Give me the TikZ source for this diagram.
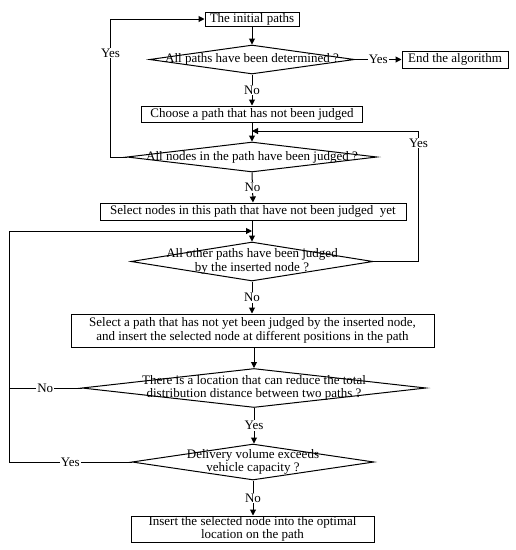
\documentclass[tikz,border=0pt]{standalone}
\usepackage{fontspec}
\setmainfont{Liberation Serif}
\usetikzlibrary{shapes.geometric, arrows.meta}

\tikzset{
  box/.style={draw, line width=1pt, inner sep=1pt, align=center},
  decision/.style={draw, diamond, line width=1pt, inner sep=0pt},
  dtext/.style={align=center, inner sep=0pt},
  arr/.style={-{Triangle[length=6pt, width=6pt]}, line width=1pt},
  link/.style={line width=1pt},
  lab/.style={fill=white, inner sep=1pt}
}

\begin{document}
\begin{tikzpicture}[x=1pt, y=-1pt, font=\fontsize{13}{13.5}\selectfont]
    \useasboundingbox (0,0) rectangle (516,550);

    % Start and end
    \node[box, minimum width=94pt, minimum height=14pt, inner sep=0pt] (start) at (252,19) {The initial paths};
    \node[box, minimum width=106pt, minimum height=17pt, inner sep=0pt] (fin) at (455,59.5) {End the algorithm};

    % First decision
    \node[decision, minimum width=205pt, minimum height=29pt] (d1) at (252,59.5) {};
    \node[dtext] (d1t) at (d1) {All paths have been determined ?};

    % Choose a path
    \node[box, minimum width=221pt, minimum height=16pt, inner sep=0pt] (pick) at (252,114) {Choose a path that has not been judged};

    % Second decision
    \node[decision, minimum width=250pt, minimum height=30pt] (d2) at (252,157) {};
    \node[dtext] (d2t) at (d2) {All nodes in the path have been judged ?};

    % Select nodes
    \node[box, minimum width=306pt, minimum height=17pt, inner sep=0pt] (sel) at (253,211.5) {Select nodes in this path that have not been judged\ \ yet};

    % Third decision
    \node[decision, minimum width=242pt, minimum height=39pt] (d3) at (252,261.5) {};
    \node[dtext] (d3t) at (d3) {All other paths have been judged\\by the inserted node ?};

    % Insert at positions
    \node[box, minimum width=363pt, minimum height=33pt, inner sep=0pt] (ins) at (252.5,330.5) {Select a path that has not yet been judged by the inserted node,\\and insert the selected node at different positions in the path};

    % Fourth decision
    \node[decision, minimum width=344pt, minimum height=39pt] (d4) at (254,388) {};
    \node[dtext] (d4t) at (d4) {There is a location that can reduce the total\\distribution distance between two paths ?};

    % Fifth decision
    \node[decision, minimum width=242pt, minimum height=36pt] (d5) at (253,462) {};
    \node[dtext] (d5t) at (d5) {Delivery volume exceeds\\vehicle capacity ?};

    % Final step
    \node[box, minimum width=243pt, minimum height=26pt, inner sep=0pt] (last) at (252.5,529) {Insert the selected node into the optimal\\location on the path};

    % Junction points on the main line
    \coordinate (j1) at (252,131);
    \coordinate (j2) at (252,231);

    % Arrows
    \draw[arr] (start) -- (d1.north);
    \draw[arr] (d1.east) -- node[lab] {Yes} (fin.west);
    \draw[arr] (d1.south) -- node[lab] {No} (pick.north);
    \draw[arr] (pick) -- (d2.north);
    \draw[arr] (d2.west) -- ++(-16,0) |- node[lab, pos=0.377] {Yes} (start.west);
    \draw[arr] (d2.south) -- node[lab] {No} (sel.north);
    \draw[arr] (sel.south -| d3.north) -- (d3.north);
    \draw[arr] (d3.east) -- ++(45,0) |- node[lab, pos=0.454] {Yes} (j1);
    \draw[arr] (d3.south) -- node[lab] {No} (ins.north -| d3.south);
    \draw[arr] (ins.south -| d4.north) -- (d4.north);
    \draw[link] (d4.west) -- node[lab] {No} (9,388);
    \draw[arr] (d4.south) -- node[lab] {Yes} (d4.south |- d5.north);
    \draw[arr] (d5.west) -- node[lab] {Yes} (9,462) -- (9,231) -- (j2);
    \draw[arr] (d5.south) -- node[lab] {No} (d5.south |- last.north);
  \end{tikzpicture}
\end{document}
